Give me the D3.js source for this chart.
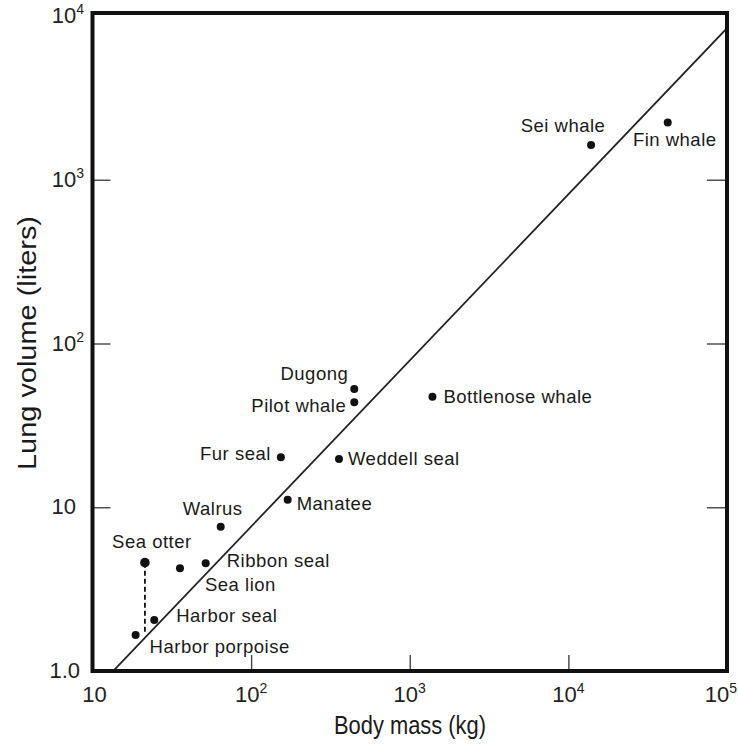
<!DOCTYPE html>
<html>
<head>
<meta charset="utf-8">
<script src="https://cdn.jsdelivr.net/npm/d3@7"></script>
<style>
  html, body { margin: 0; padding: 0; background: #fff; }
  svg { display: block; font-family: "Liberation Sans", Arial, Helvetica, sans-serif; }
</style>
</head>
<body>
<svg id="chart" width="738" height="747"></svg>
<script>
// Lung volume versus body mass in marine mammals (log–log)
const species = ["Fin whale", "Sei whale", "Dugong", "Pilot whale", "Bottlenose whale",
  "Fur seal", "Weddell seal", "Manatee", "Walrus", "Sea otter", "Ribbon seal",
  "Sea lion", "Harbor seal", "Harbor porpoise"];
const bodyMassKg = [42300, 13900, 447, 447, 1390, 154, 358, 170, 64.3, 21.4, 51.7, 35.6, 24.5, 18.7];
const lungVolumeL = [2240, 1630, 52.7, 43.7, 47.3, 20.2, 19.7, 11.1, 7.6, 4.59, 4.55, 4.24, 2.05, 1.66];

// Sea otter: measured lung volume vs. the value expected for its size
const seaOtterExpectedL = 1.72;

// Allometric fit, drawn across the whole plot: V = a * M^b
const fitA = 0.0713;
const fitB = 1.0145;

const xTicks = [10, 100, 1000, 10000, 100000];
const xTickBase = ["10", "10", "10", "10", "10"];
const xTickExp = ["", "2", "3", "4", "5"];
const yTicks = [1, 10, 100, 1000, 10000];
const yTickBase = ["1.0", "10", "10", "10", "10"];
const yTickExp = ["", "", "2", "3", "4"];

const xTitle = "Body mass (kg)";
const yTitle = "Lung volume (liters)";

// label placement per species: [dx, dy, anchor]
const labelPlacement = {
  "Fin whale": [7, 24, "middle"],
  "Sei whale": [-28, -13, "middle"],
  "Dugong": [-6, -9, "end"],
  "Pilot whale": [-8, 10, "end"],
  "Bottlenose whale": [11, 6, "start"],
  "Fur seal": [-10, 3, "end"],
  "Weddell seal": [9, 6, "start"],
  "Manatee": [9, 10, "start"],
  "Walrus": [-8, -12, "middle"],
  "Sea otter": [7, -15, "middle"],
  "Ribbon seal": [21, 4, "start"],
  "Sea lion": [25, 23, "start"],
  "Harbor seal": [22, 2, "start"],
  "Harbor porpoise": [14, 18, "start"]
};

const frame = { left: 92.5, right: 727, top: 13, bottom: 671 };
const yLabelRight = [80, 76, 84, 84, 84];

const svg = d3.select("#chart");

const x = d3.scaleLog().domain([10, 100000]).range([frame.left, frame.right]);
const y = d3.scaleLog().domain([1, 10000]).range([frame.bottom, 16]);

svg.append("defs").append("clipPath").attr("id", "plotclip")
  .append("rect")
  .attr("x", frame.left).attr("y", frame.top)
  .attr("width", frame.right - frame.left).attr("height", frame.bottom - frame.top);

// inward tick marks on left, right and bottom
const tickStyle = g => g.call(s => s.select(".domain").remove())
  .call(s => s.selectAll(".tick line").attr("stroke", "#444").attr("stroke-width", 1.4))
  .call(s => s.selectAll(".tick text").remove());

svg.append("g").attr("transform", `translate(${frame.left},0)`)
  .call(d3.axisLeft(y).tickValues([10, 100, 1000]).tickSize(-18).tickFormat(""))
  .call(tickStyle);
svg.append("g").attr("transform", `translate(${frame.right},0)`)
  .call(d3.axisRight(y).tickValues([10, 100, 1000]).tickSize(-20).tickFormat(""))
  .call(tickStyle);
svg.append("g").attr("transform", `translate(0,${frame.bottom})`)
  .call(d3.axisBottom(x).tickValues([100, 1000, 10000]).tickSize(-16).tickFormat(""))
  .call(tickStyle);

// regression line
const lineMass = [10, 100000];
svg.append("path")
  .attr("clip-path", "url(#plotclip)")
  .attr("d", d3.line().x(m => x(m)).y(m => y(fitA * Math.pow(m, fitB)))(lineMass))
  .attr("fill", "none").attr("stroke", "#222").attr("stroke-width", 1.8);

// frame
svg.append("rect")
  .attr("x", frame.left).attr("y", frame.top)
  .attr("width", frame.right - frame.left).attr("height", frame.bottom - frame.top)
  .attr("fill", "none").attr("stroke", "#111").attr("stroke-width", 4);

// tick labels
const xl = svg.append("g").attr("font-size", 22).attr("fill", "#222");
xTicks.forEach((v, i) => {
  const last = i === xTicks.length - 1;
  const t = xl.append("text")
    .attr("text-anchor", last ? "end" : "middle")
    .attr("x", last ? 737 : x(v) + (i === 0 ? 2 : 0)).attr("y", 702);
  t.append("tspan").text(xTickBase[i]);
  if (xTickExp[i]) t.append("tspan").attr("font-size", 14).attr("dy", -9).text(xTickExp[i]);
});
const yl = svg.append("g").attr("font-size", 22).attr("fill", "#222").attr("text-anchor", "end");
yTicks.forEach((v, i) => {
  const t = yl.append("text").attr("x", yLabelRight[i]).attr("y", y(v) + 7);
  t.append("tspan").text(yTickBase[i]);
  if (yTickExp[i]) t.append("tspan").attr("font-size", 14).attr("dy", -9).text(yTickExp[i]);
});

// axis titles
svg.append("text").attr("x", 410).attr("y", 734).attr("text-anchor", "middle")
  .attr("font-size", 26).attr("fill", "#1a1a1a")
  .attr("textLength", 152).attr("lengthAdjust", "spacingAndGlyphs")
  .text(xTitle);
svg.append("text").attr("transform", `translate(36,343) rotate(-90)`).attr("text-anchor", "middle")
  .attr("font-size", 26).attr("fill", "#1a1a1a")
  .attr("textLength", 254).attr("lengthAdjust", "spacingAndGlyphs")
  .text(yTitle);

// sea otter dashed drop line
const otterIdx = species.indexOf("Sea otter");
svg.append("line")
  .attr("x1", x(bodyMassKg[otterIdx])).attr("x2", x(bodyMassKg[otterIdx]))
  .attr("y1", y(lungVolumeL[otterIdx])).attr("y2", y(seaOtterExpectedL))
  .attr("stroke", "#111").attr("stroke-width", 1.8).attr("stroke-dasharray", "5,3");

// points
const pts = species.map((s, i) => ({ name: s, m: bodyMassKg[i], v: lungVolumeL[i] }));
svg.append("g").selectAll("circle").data(pts).join("circle")
  .attr("cx", d => x(d.m)).attr("cy", d => y(d.v))
  .attr("r", d => d.name === "Sea otter" ? 4.8 : 4)
  .attr("fill", "#111");

// point labels
svg.append("g").attr("font-size", 18.5).attr("fill", "#1a1a1a").attr("letter-spacing", 0.5)
  .selectAll("text").data(pts).join("text")
  .attr("x", d => x(d.m) + labelPlacement[d.name][0])
  .attr("y", d => y(d.v) + labelPlacement[d.name][1])
  .attr("text-anchor", d => labelPlacement[d.name][2])
  .text(d => d.name);
</script>
</body>
</html>
